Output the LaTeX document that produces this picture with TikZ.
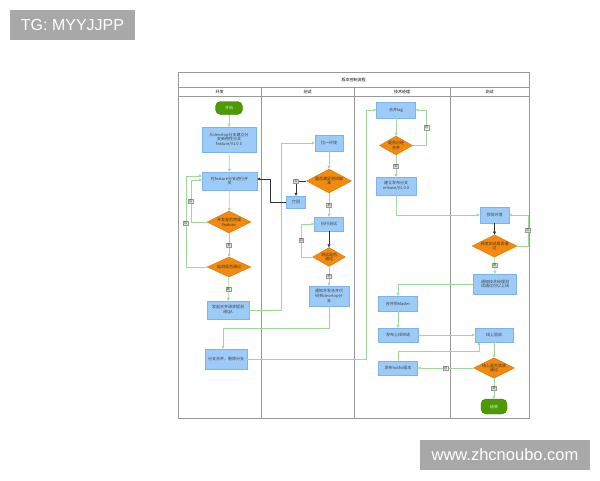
\documentclass[tikz,border=0pt]{standalone}
\usepackage{fontspec}
\setmainfont{Noto Sans CJK SC}
\newfontfamily\wmfont{Liberation Sans}
\usetikzlibrary{arrows.meta, positioning, shapes.geometric}
\definecolor{boxblue}{HTML}{9DCBF8}
\definecolor{boxline}{HTML}{7DB3E8}
\definecolor{decorange}{HTML}{F28A0F}
\definecolor{decline}{HTML}{D97706}
\definecolor{termgreen}{HTML}{4E9A06}
\definecolor{flowgreen}{HTML}{9ED99A}
\definecolor{lanegray}{HTML}{999999}
\definecolor{wmgray}{HTML}{A8A8A8}

\begin{document}
\begin{tikzpicture}[x=1pt, y=-1pt, >={Triangle[length=3pt,width=3pt]},
  every node/.style={font=\fontsize{4}{4.8}\selectfont, align=center},
  box/.style={draw=boxline, fill=boxblue, inner sep=0.5pt, text=black!75},
  dec/.style={diamond, draw=decline, fill=decorange, aspect=2, inner sep=0pt, text=black!80},
  term/.style={draw=termgreen!80!black, fill=termgreen, rounded corners=5pt, text=white!75!green, minimum width=27pt, minimum height=13pt},
  lbl/.style={draw=gray!80, fill=gray!15, inner sep=0.6pt, font=\fontsize{3.5}{4}\selectfont, text=gray!50!black},
  garr/.style={->, draw=flowgreen, line width=0.6pt},
  barr/.style={->, draw=black!80, line width=0.6pt},
  lane/.style={draw=lanegray, line width=0.6pt}]
\useasboundingbox (0,0) rectangle (600,480);

% watermarks
\node[fill=wmgray, text=white, font=\wmfont\fontsize{16}{16}\selectfont, minimum width=125pt, minimum height=30pt, inner sep=0pt] (wm1) at (72.5,25) {TG: MYYJJPP};
\node[fill=wmgray, text=white, font=\wmfont\fontsize{16.5}{16.5}\selectfont, minimum width=170pt, minimum height=30pt, inner sep=0pt] (wm2) at (505,455) {www.zhcnoubo.com};

% swimlanes
\draw[lane] (178,72) rectangle (529,418);
\draw[lane] (178,87) -- (529,87);
\draw[lane] (178,96) -- (529,96);
\draw[lane] (261,87) -- (261,418);
\draw[lane] (354,87) -- (354,418);
\draw[lane] (450,87) -- (450,418);
\node (title) at (353.5,79.5) {版本控制流程};
\node (hdev) at (219.5,91.5) {开发};
\node (htest) at (307.5,91.5) {测试};
\node (hmgr) at (402,91.5) {技术经理};
\node (htest2) at (489.5,91.5) {测试};

% 开发
\node[term] (start) at (229,108) {开始};
\node[box, minimum width=54pt, minimum height=25pt] (n1) at (229,139.5) {从develop分支建立分\\支新特性分支\\feature/V1.0.0};
\node[box, minimum width=55pt, minimum height=18pt] (n2) at (229.5,181) {在feature分支进行开\\发};
\node[dec, minimum width=44pt, minimum height=22pt] (d1) at (229,222) {开发是否完成\\feature};
\node[dec, minimum width=44pt, minimum height=20pt] (d2) at (229,267) {自测是否通过};
\node[box, minimum width=42pt, minimum height=18pt] (n3) at (228,310) {发起合并请求提测\\给QA};
\node[box, minimum width=42pt, minimum height=20pt] (n4) at (226,359) {分支合并，删除分支};

% 测试
\node[box, minimum width=28pt, minimum height=16pt] (t1) at (329,143) {拉一环境};
\node[dec, minimum width=37pt, minimum height=24pt] (td1) at (329,181) {是否满足测试标\\准};
\node[box, minimum width=19pt, minimum height=12pt] (t2) at (296,202) {打回};
\node[box, minimum width=29pt, minimum height=14pt] (t3) at (329,224) {执行测试};
\node[dec, minimum width=27pt, minimum height=19pt] (td2) at (329,257) {测试是否\\通过};
\node[box, minimum width=40pt, minimum height=20pt] (t4) at (329,296) {通知开发合并代\\码到develop分\\支};

% 技术经理
\node[box, minimum width=39pt, minimum height=16pt] (m1) at (396,110) {合并tag};
\node[dec, minimum width=28pt, minimum height=19pt] (md) at (396,145.5) {是否已经\\合并};
\node[box, minimum width=40pt, minimum height=18pt] (m2) at (396,186) {建立发布分支\\release/V1.0.0};
\node[box, minimum width=39pt, minimum height=15pt] (m3) at (398,303.5) {合并到Master};
\node[box, minimum width=40pt, minimum height=14pt] (m4) at (398,335) {发布上线申请};
\node[box, minimum width=39pt, minimum height=14pt] (m5) at (398,368) {发布hotfix版本};

% 测试 (上线)
\node[box, minimum width=29pt, minimum height=16pt] (q1) at (494.5,215) {预发环境};
\node[dec, minimum width=33pt, minimum height=18pt] (qd) at (494.5,246) {预发测试是否通\\过};
\node[box, minimum width=43pt, minimum height=20pt] (q2) at (495,284) {通知技术经理测\\试通过可以上线};
\node[box, minimum width=38pt, minimum height=14pt] (q3) at (494,335) {线上验收};
\node[dec, minimum width=32pt, minimum height=17pt] (qd2) at (494,368) {线上是否验收\\通过};
\node[term, minimum width=26pt, minimum height=15pt] (end) at (494,406.5) {结束};

% connectors
\draw[garr] (start) -- (n1);
\draw[garr] (n1) -- (n2);
\draw[garr] (n2) -- (d1);
\draw[garr] (d1) -- node[lbl] (y1) {是} (d2);
\draw[garr] (d1.west) -- ++(-16,0) |- node[lbl, pos=0.25] (f1) {否} ([yshift=1pt]n2.west);
\draw[garr] (d2.west) -- ++(-21,0) |- node[lbl, pos=0.24] (f2) {否} ([yshift=5pt]n2.west);
\draw[garr] (d2) -- node[lbl] (y2) {是} (n3);
\draw[garr] (n3.east) -- ++(32,0) |- (t1.west);
\draw[garr] (t1) -- (td1);
\draw[barr] (td1.west) -| node[lbl, pos=0.5] (f3) {否} (t2.north);
\draw[barr] (t2.west) -- ++(-16,0) |- ([yshift=2pt]n2.east);
\draw[garr] (td1) -- node[lbl] (y3) {是} (t3);
\draw[barr] (t3) -- (td2);
\draw[garr] (td2.west) -- ++(-11,0) |- node[lbl, pos=0.25] (f4) {否} (t3.west);
\draw[garr] (td2) -- node[lbl] (y4) {是} (t4);
\draw[garr] (t4.south) -- ++(0,22) -| ([xshift=-3pt]n4.north);
\draw[garr] (n4.east) -- ++(119,0) |- (m1.west);
\draw[garr] (m1) -- (md);
\draw[garr] (md.east) -- ++(14,0) |- node[lbl, pos=0.25] (f5) {否} (m1.east);
\draw[garr] (md) -- node[lbl] (y5) {是} (m2);
\draw[garr] (m2.south) |- (q1.west);
\draw[barr] (q1) -- (qd);
\draw[garr] (qd.east) -- ++(11,0) |- node[lbl, pos=0.25] (f6) {否} (q1.east);
\draw[garr] (qd) -- node[lbl] (y6) {是} (q2);
\draw[garr] (q2.west) -| (m3.north);
\draw[garr] (m3) -- (m4);
\draw[garr] (m4) -- (q3);
\draw[garr] (m5.north) -- ++(0,-10) -| ([xshift=-15pt]q3.south);
\draw[garr] (q3) -- (qd2);
\draw[garr] (qd2) -- node[lbl] (f7) {否} (m5);
\draw[garr] (qd2) -- node[lbl] (y7) {是} (end);
\end{tikzpicture}
\end{document}
